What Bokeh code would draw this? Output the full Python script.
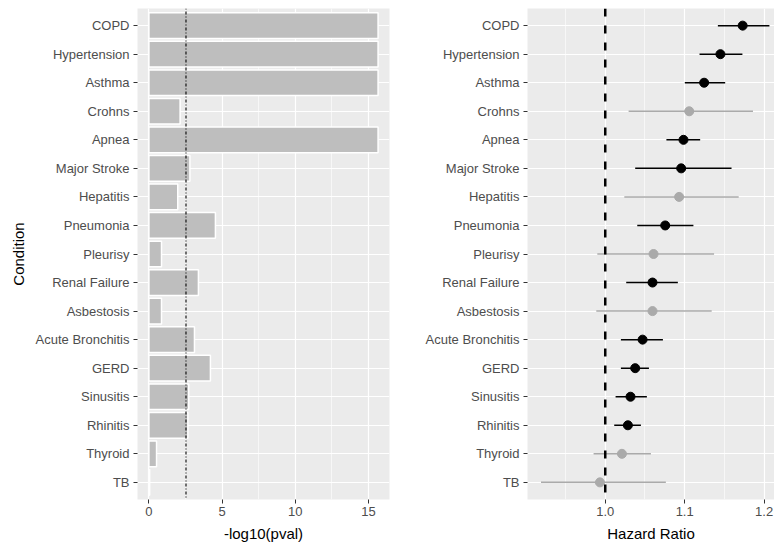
import math
from bokeh.plotting import figure
from bokeh.models import Range1d, FixedTicker, Span, ColumnDataSource, PrintfTickFormatter
from bokeh.layouts import row
from bokeh.embed import file_html
from bokeh.resources import INLINE

conditions = ["COPD", "Hypertension", "Asthma", "Crohns", "Apnea", "Major Stroke",
              "Hepatitis", "Pneumonia", "Pleurisy", "Renal Failure", "Asbestosis",
              "Acute Bronchitis", "GERD", "Sinusitis", "Rhinitis", "Thyroid", "TB"]
neglog10p = [15.65, 15.65, 15.65, 2.13, 15.65, 2.80, 1.97, 4.54, 0.86, 3.38, 0.86,
             3.11, 4.20, 2.72, 2.66, 0.52, 0.05]
hazard_ratio = [1.173, 1.145, 1.1245, 1.1057, 1.0985, 1.0956, 1.093, 1.0755, 1.0608,
                1.0595, 1.0595, 1.047, 1.0377, 1.0318, 1.0285, 1.021, 0.9933]
hr_lower = [1.1418, 1.1187, 1.1002, 1.0294, 1.077, 1.0377, 1.024, 1.0403, 0.990,
            1.0264, 0.9887, 1.0197, 1.0197, 1.013, 1.0113, 0.9853, 0.9191]
hr_upper = [1.2067, 1.1727, 1.151, 1.186, 1.1195, 1.159, 1.168, 1.111, 1.137,
            1.0914, 1.134, 1.0726, 1.055, 1.0524, 1.0449, 1.0575, 1.0763]
pval_ticks = [0, 5, 10, 15]
pval_minor = [2.5, 7.5, 12.5]
hr_ticks = [1.0, 1.1, 1.2]
hr_minor = [0.95, 1.05, 1.15]

n = len(conditions)
threshold = -math.log10(0.05 / n)
ypos = [n - i for i in range(n)]
colors = ["#000000" if v > threshold else "#AAAAAA" for v in neglog10p]
labels = {ypos[i]: conditions[i] for i in range(n)}

FONT = "Liberation Sans"
PANEL = "#EBEBEB"


def style(p, xticks, xminor):
    p.background_fill_color = PANEL
    p.border_fill_color = "white"
    p.outline_line_color = None
    p.xaxis.ticker = FixedTicker(ticks=xticks, minor_ticks=xminor)
    p.yaxis.ticker = FixedTicker(ticks=ypos)
    p.yaxis.major_label_overrides = labels
    for ax in (p.xaxis[0], p.yaxis[0]):
        ax.axis_line_color = None
        ax.major_tick_in = 0
        ax.major_tick_out = 4
        ax.minor_tick_in = 0
        ax.minor_tick_out = 0
        ax.major_tick_line_color = "#333333"
        ax.major_tick_line_width = 1
        ax.major_label_text_font = FONT
        ax.major_label_text_font_size = "13px"
        ax.major_label_text_color = "#4D4D4D"
        ax.axis_label_text_font = FONT
        ax.axis_label_text_font_size = "15px"
        ax.axis_label_text_font_style = "normal"
        ax.axis_label_text_color = "#000000"
    p.xaxis.major_label_standoff = 3
    p.xaxis.axis_label_standoff = 6
    p.yaxis.major_label_standoff = 4
    p.yaxis.axis_label_standoff = 6
    p.xgrid.grid_line_color = "white"
    p.xgrid.grid_line_width = 1.2
    p.xgrid.minor_grid_line_color = "white"
    p.xgrid.minor_grid_line_width = 0.6
    p.ygrid.grid_line_color = "white"
    p.ygrid.grid_line_width = 1.2


# Left panel: -log10(pval) bars
p1 = figure(width=400, height=545, output_backend="svg", toolbar_location=None,
            x_range=Range1d(-0.78, 16.43), y_range=Range1d(0.4, n + 0.6),
            min_border_left=137, min_border_right=11, min_border_top=8, min_border_bottom=46)
style(p1, pval_ticks, pval_minor)
p1.xaxis.axis_label = "-log10(pval)"
p1.yaxis.axis_label = "Condition"
src1 = ColumnDataSource(dict(y=ypos, v=neglog10p))
p1.hbar(y="y", left=0, right="v", height=0.9, source=src1,
        fill_color="#BEBEBE", line_color="white", line_width=1.5)
p1.add_layout(Span(location=threshold, dimension="height", line_color="black",
                   line_width=1.1, line_dash="1 2 3 2"))

# Right panel: hazard ratios
p2 = figure(width=374, height=545, output_backend="svg", toolbar_location=None,
            x_range=Range1d(0.9021, 1.2131), y_range=Range1d(0.4, n + 0.6),
            min_border_left=127, min_border_right=0, min_border_top=8, min_border_bottom=46)
style(p2, hr_ticks, hr_minor)
p2.xaxis.formatter = PrintfTickFormatter(format="%.1f")
p2.xaxis.axis_label = "Hazard Ratio"
p2.add_layout(Span(location=1.0, dimension="height", line_color="black",
                   line_width=2.5, line_dash="8 9"))
src2 = ColumnDataSource(dict(y=ypos, hr=hazard_ratio, lo=hr_lower, hi=hr_upper, c=colors))
p2.segment(x0="lo", y0="y", x1="hi", y1="y", line_color="c", line_width=1.5, source=src2)
p2.scatter(x="hr", y="y", size=9, fill_color="c", line_color="c", source=src2)

layout = row(p1, p2)
open("out.html", "w").write(file_html(layout, INLINE))
